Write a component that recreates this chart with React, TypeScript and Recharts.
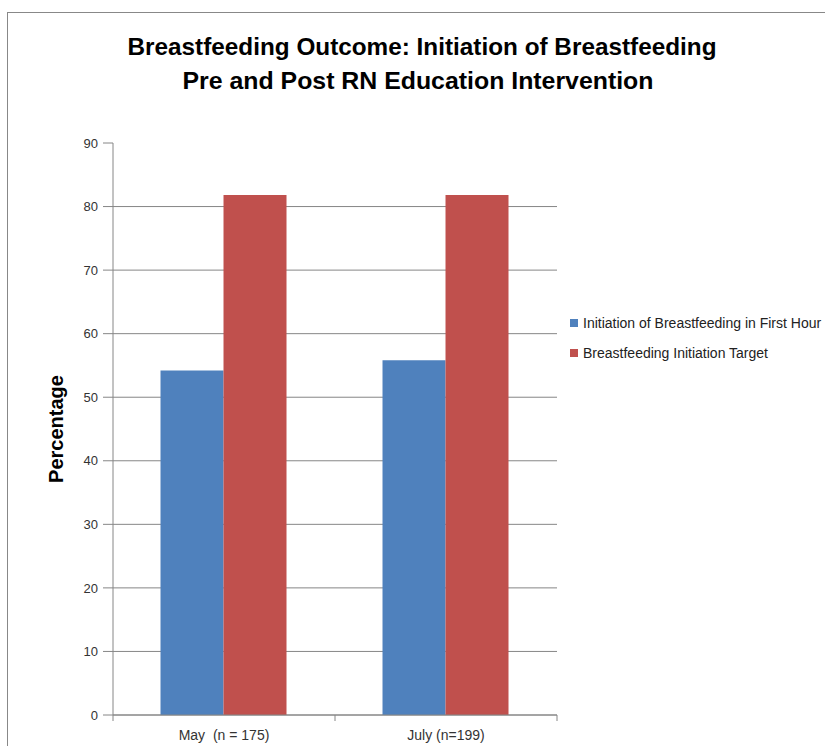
import { BarChart, Bar, XAxis, YAxis, CartesianGrid, Legend } from 'recharts'

const categories = ['May  (n = 175)', 'July (n=199)']
const firstHourInitiation = [54.2, 55.8]
const initiationTarget = [81.8, 81.8]
const seriesNames = ['Initiation of Breastfeeding in First Hour', 'Breastfeeding Initiation Target']
const seriesColors = ['#4F81BD', '#C0504D']
const yTicks = [0, 10, 20, 30, 40, 50, 60, 70, 80, 90]

const data = categories.map((name, i) => ({
    name,
    firstHour: firstHourInitiation[i],
    target: initiationTarget[i],
}))

const GRID = '#868686'
const FONT = '"Liberation Sans", Arial, sans-serif'

// category label plus Excel-style tick marks at the category edges
const CategoryTick = (props: any) => {
    const { x, y, payload, width, visibleTicksCount, index } = props
    const half = width / (visibleTicksCount || 2) / 2
    const axisY = y - 8
    return (
        <g>
            <line x1={x - half} x2={x - half} y1={axisY} y2={axisY + 6} stroke={GRID} />
            {index === visibleTicksCount - 1 && (
                <line x1={x + half} x2={x + half} y1={axisY} y2={axisY + 6} stroke={GRID} />
            )}
            <text x={x} y={y} dy={17} textAnchor="middle" fontSize={14} fill="#333" fontFamily={FONT} style={{ whiteSpace: 'pre' }}>
                {payload.value}
            </text>
        </g>
    )
}

// skip the grid line at the top of the axis
const GridLine = (props: any) => {
    const { x1, x2, y1, y2 } = props
    if (y1 < 150) return <g />
    return <line x1={x1} x2={x2} y1={y1} y2={y2} stroke={GRID} strokeWidth={1} />
}

const LegendBox = () => (
    <div style={{ fontFamily: FONT, fontSize: 14, color: '#222' }}>
        {seriesNames.map((n, i) => (
            <div key={n} style={{ display: 'flex', alignItems: 'center', height: 30, whiteSpace: 'nowrap' }}>
                <span style={{ width: 8, height: 8, background: seriesColors[i], marginRight: 5 }} />
                <span>{n}</span>
            </div>
        ))}
    </div>
)

export default function App() {
    return (
        <div style={{ position: 'absolute', left: 0, top: 0, width: 825, height: 746, overflow: 'hidden', background: '#fff' }}>
            <div style={{ position: 'absolute', left: 7, top: 12, width: 830, height: 740, borderLeft: '1px solid #888', borderTop: '1px solid #888' }} />
            <svg width={825} height={120} style={{ position: 'absolute', left: 0, top: 0 }}>
                <text x={422} y={55} textAnchor="middle" fontSize={24} fontWeight="bold" fontFamily={FONT} fill="#000" textLength={589} lengthAdjust="spacingAndGlyphs">
                    Breastfeeding Outcome: Initiation of Breastfeeding
                </text>
                <text x={418} y={89} textAnchor="middle" fontSize={24} fontWeight="bold" fontFamily={FONT} fill="#000" textLength={471} lengthAdjust="spacingAndGlyphs">
                    Pre and Post RN Education Intervention
                </text>
            </svg>
            <div style={{ position: 'absolute', left: 0, top: 0 }}>
                <BarChart
                    width={825}
                    height={746}
                    data={data}
                    margin={{ top: 143, right: 268, left: 63, bottom: 6 }}
                    barCategoryGap="21.4%"
                    barGap={0}
                >
                    <CartesianGrid vertical={false} horizontal={GridLine} />
                    <XAxis
                        dataKey="name"
                        height={25}
                        stroke={GRID}
                        tickLine={false}
                        tickSize={6}
                        tickMargin={2}
                        tick={<CategoryTick />}
                        interval={0}
                    />
                    <YAxis
                        width={50}
                        domain={[0, 90]}
                        ticks={yTicks}
                        stroke={GRID}
                        tickSize={10}
                        tickMargin={5}
                        tick={{ fontSize: 13, fill: '#333', fontFamily: FONT }}
                        label={{
                            value: 'Percentage',
                            angle: -90,
                            position: 'insideLeft',
                            dx: -12,
                            dy: 0,
                            style: { fontSize: 20, fontWeight: 'bold', fill: '#000', fontFamily: FONT, textAnchor: 'middle' },
                        }}
                    />
                    <Legend
                        layout="vertical"
                        align="center"
                        verticalAlign="middle"
                        content={<LegendBox />}
                        wrapperStyle={{ left: 570, top: 308, width: 270 }}
                    />
                    <Bar dataKey="firstHour" name={seriesNames[0]} fill={seriesColors[0]} isAnimationActive={false} />
                    <Bar dataKey="target" name={seriesNames[1]} fill={seriesColors[1]} isAnimationActive={false} />
                </BarChart>
            </div>
        </div>
    )
}
